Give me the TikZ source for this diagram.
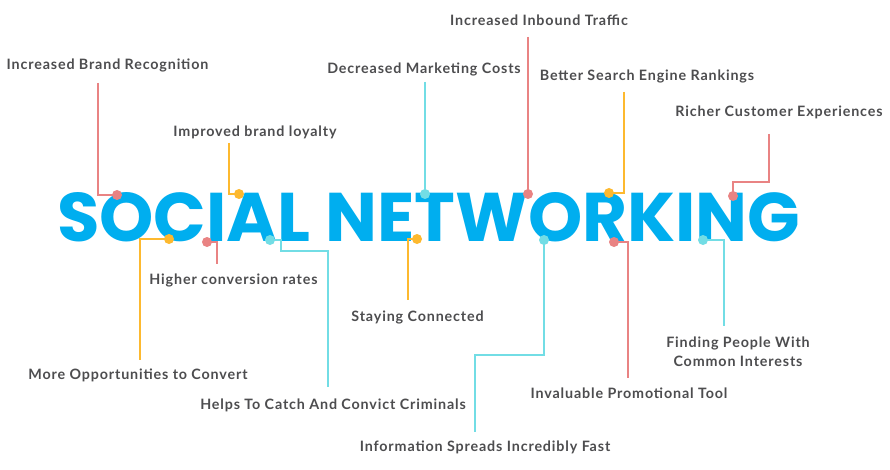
\documentclass[tikz,border=0pt]{standalone}
\usepackage{fontspec}
\setmainfont{Lato}[LetterSpace=6]
\newfontfamily\titlefont{Poppins}
\definecolor{cred}{HTML}{E98383}
\definecolor{corange}{HTML}{FDB92F}
\definecolor{ccyan}{HTML}{72DDE5}
\definecolor{cblue}{HTML}{00AEEF}
\definecolor{ctext}{HTML}{4D4D4F}
\begin{document}
\begin{tikzpicture}[x=1pt,y=-1pt,
  lbl/.style={font=\fontsize{14.3}{17}\selectfont\bfseries, text=ctext, inner sep=0pt, align=center},
  lnk/.style={line width=2pt},
  dotr/.style={circle, fill=cred, minimum size=10pt, inner sep=0pt},
  doto/.style={circle, fill=corange, minimum size=10pt, inner sep=0pt},
  dotc/.style={circle, fill=ccyan, minimum size=10pt, inner sep=0pt}]
\useasboundingbox (0,0) rectangle (890,470);
\fill[white] (0,0) rectangle (890,470);
% title
\node[inner sep=0pt, anchor=south west, text=cblue] (title) at (57,242)
  {\resizebox{743pt}{49pt}{\titlefont\bfseries SOCIAL NETWORKING}};
% labels
\node[lbl] (L1) at (107.5,65) {Increased Brand Recognition};
\node[lbl] (L2) at (255,132) {Improved brand loyalty};
\node[lbl] (L3) at (424,69) {Decreased Marketing Costs};
\node[lbl] (L4) at (539,20) {Increased Inbound Traffic};
\node[lbl] (L5) at (647,76) {Better Search Engine Rankings};
\node[lbl] (L6) at (779,112) {Richer Customer Experiences};
\node[lbl] (L7) at (233.5,280) {Higher conversion rates};
\node[lbl] (L8) at (417.5,317) {Staying Connected};
\node[lbl] (L9) at (138,375) {More Opportunities to Convert};
\node[lbl] (L10) at (333,405) {Helps To Catch And Convict Criminals};
\node[lbl] (L11) at (485,447) {Information Spreads Incredibly Fast};
\node[lbl] (L12) at (629,393) {Invaluable Promotional Tool};
\node[lbl, font=\fontsize{14.3}{19.5}\selectfont\bfseries] (L13) at (738,351.5) {Finding People With\\Common Interests};
% line ends
\coordinate (e1) at (98,83);
\coordinate (e2) at (229,143);
\coordinate (e3) at (425,82);
\coordinate (e4) at (528,37);
\coordinate (e5) at (624,92);
\coordinate (e6) at (769,134);
\coordinate (e7) at (140,360);
\coordinate (e8) at (217,264);
\coordinate (e9) at (328,387);
\coordinate (e10) at (408,300);
\coordinate (e11) at (475,432);
\coordinate (e12) at (628,378);
\coordinate (e13) at (724,326);
% dots positions
\coordinate (p1) at (117,195);
\coordinate (p2) at (239,194);
\coordinate (p3) at (425,194);
\coordinate (p4) at (528,194);
\coordinate (p5) at (609,193);
\coordinate (p6) at (733,196);
\coordinate (p7) at (169,239);
\coordinate (p8) at (207,242);
\coordinate (p9) at (270,240);
\coordinate (p10) at (417,239);
\coordinate (p11) at (544,240);
\coordinate (p12) at (614,242);
\coordinate (p13) at (703,240);
% connectors
\draw[lnk, cred] (e1) |- (p1);
\draw[lnk, corange] (e2) |- (p2);
\draw[lnk, ccyan] (e3) -- (p3);
\draw[lnk, cred] (e4) -- (p4);
\draw[lnk, corange] (e5) |- (p5);
\draw[lnk, cred] (e6) -- (769,182) -| (p6);
\draw[lnk, corange] (p7) -| (e7);
\draw[lnk, cred] (p8) -| (e8);
\draw[lnk, ccyan] (p9) -| (281,251) -| (e9);
\draw[lnk, corange] (p10) -| (e10);
\draw[lnk, ccyan] (p11) |- (475,355) -- (e11);
\draw[lnk, cred] (p12) -| (e12);
\draw[lnk, ccyan] (p13) -| (e13);
% dots
\node[dotr] (d1) at (p1) {};
\node[doto] (d2) at (p2) {};
\node[dotc] (d3) at (p3) {};
\node[dotr] (d4) at (p4) {};
\node[doto] (d5) at (p5) {};
\node[dotr] (d6) at (p6) {};
\node[doto] (d7) at (p7) {};
\node[dotr] (d8) at (p8) {};
\node[dotc] (d9) at (p9) {};
\node[doto] (d10) at (p10) {};
\node[dotc] (d11) at (p11) {};
\node[dotr] (d12) at (p12) {};
\node[dotc] (d13) at (p13) {};
\end{tikzpicture}
\end{document}
